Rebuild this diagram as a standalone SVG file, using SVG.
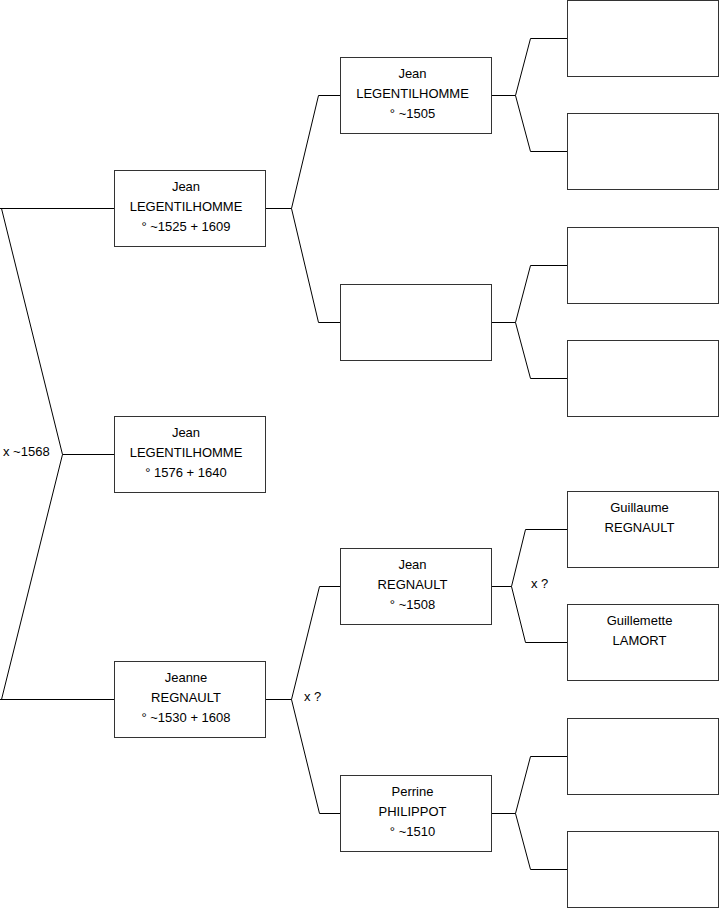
<svg xmlns="http://www.w3.org/2000/svg" width="719" height="908" viewBox="0 0 719 908">
<style>
.box{fill:#fff;stroke:#333;stroke-width:1}
.c{fill:none;stroke:#000;stroke-width:1}
text{font-family:"Liberation Sans",Arial,sans-serif;font-size:13px;fill:#000}
.t{text-anchor:middle}
</style>
<rect width="719" height="908" fill="#fff"/>
<g id="connectors">
<path class="c" d="M114,208.5 H0 M1.5,208.5 L62.5,454.5 H114 M1.5,699.5 L62.5,454.5 M0,699.5 H114"/>
<path class="c" d="M265,208.5 H291.5 L318.5,95.5 H340 M291.5,208.5 L318.5,322.5 H340"/>
<path class="c" d="M265,699.5 H291.5 L319.5,586.5 H340 M291.5,699.5 L319.5,813.5 H340"/>
<path class="c" d="M491,95.5 H515.5 L530.5,38.5 H567 M515.5,95.5 L530.5,151.5 H567"/>
<path class="c" d="M491,322.5 H515.5 L530.5,265.5 H567 M515.5,322.5 L530.5,378.5 H567"/>
<path class="c" d="M491,586.5 H511.5 L525.5,529.5 H567 M511.5,586.5 L525.5,642.5 H567"/>
<path class="c" d="M491,813.5 H515.5 L530.5,756.5 H567 M515.5,813.5 L530.5,869.5 H567"/>
<text x="3" y="456">x ~1568</text>
<text x="304" y="701">x ?</text>
<text x="531" y="588">x ?</text>
</g>
<g id="n1"><rect class="box" x="114.5" y="170.5" width="151" height="76"/>
<text class="t" x="186" y="191">Jean</text><text class="t" x="186" y="211">LEGENTILHOMME</text><text class="t" x="186" y="231">° ~1525 + 1609</text></g>
<g id="n2"><rect class="box" x="114.5" y="416.5" width="151" height="76"/>
<text class="t" x="186" y="437">Jean</text><text class="t" x="186" y="457">LEGENTILHOMME</text><text class="t" x="186" y="477">° 1576 + 1640</text></g>
<g id="n3"><rect class="box" x="114.5" y="661.5" width="151" height="76"/>
<text class="t" x="186" y="682">Jeanne</text><text class="t" x="186" y="702">REGNAULT</text><text class="t" x="186" y="722">° ~1530 + 1608</text></g>
<g id="n4"><rect class="box" x="340.5" y="57.5" width="151" height="76"/>
<text class="t" x="412.5" y="78">Jean</text><text class="t" x="412.5" y="98">LEGENTILHOMME</text><text class="t" x="412.5" y="118">° ~1505</text></g>
<g id="n5"><rect class="box" x="340.5" y="284.5" width="151" height="76"/></g>
<g id="n6"><rect class="box" x="340.5" y="548.5" width="151" height="76"/>
<text class="t" x="412.5" y="569">Jean</text><text class="t" x="412.5" y="589">REGNAULT</text><text class="t" x="412.5" y="609">° ~1508</text></g>
<g id="n7"><rect class="box" x="340.5" y="775.5" width="151" height="76"/>
<text class="t" x="412.5" y="796">Perrine</text><text class="t" x="412.5" y="816">PHILIPPOT</text><text class="t" x="412.5" y="836">° ~1510</text></g>
<g id="n8"><rect class="box" x="567.5" y="0.5" width="151" height="76"/></g>
<g id="n9"><rect class="box" x="567.5" y="113.5" width="151" height="76"/></g>
<g id="n10"><rect class="box" x="567.5" y="227.5" width="151" height="76"/></g>
<g id="n11"><rect class="box" x="567.5" y="340.5" width="151" height="76"/></g>
<g id="n12"><rect class="box" x="567.5" y="491.5" width="151" height="76"/>
<text class="t" x="639.5" y="512">Guillaume</text><text class="t" x="639.5" y="532">REGNAULT</text></g>
<g id="n13"><rect class="box" x="567.5" y="604.5" width="151" height="76"/>
<text class="t" x="639.5" y="625">Guillemette</text><text class="t" x="639.5" y="645">LAMORT</text></g>
<g id="n14"><rect class="box" x="567.5" y="718.5" width="151" height="76"/></g>
<g id="n15"><rect class="box" x="567.5" y="831.5" width="151" height="76"/></g>
</svg>
